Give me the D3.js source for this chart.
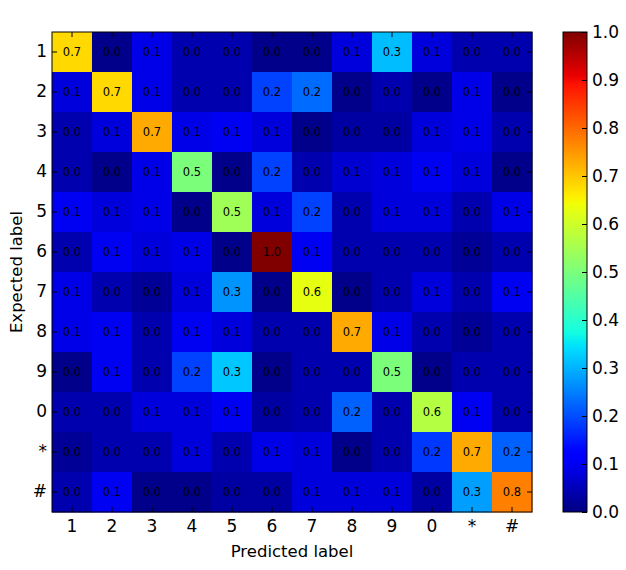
<!DOCTYPE html>
<html>
<head>
<meta charset="utf-8">
<script src="https://cdn.jsdelivr.net/npm/d3@7"></script>
<style>
  body { margin: 0; background: #fff; }
  svg { display: block; }
</style>
</head>
<body>
<div id="wrapper"></div>
<script>
// class labels, same order on both axes
const labels = ["1", "2", "3", "4", "5", "6", "7", "8", "9", "0", "*", "#"]

// one row per expected label
const row1    = [0.68, 0.01, 0.09, 0.04, 0.04, 0.01, 0.01, 0.08, 0.31, 0.08, 0.04, 0.04]
const row2    = [0.08, 0.68, 0.09, 0.04, 0.04, 0.19, 0.23, 0.01, 0.04, 0.01, 0.09, 0.01]
const row3    = [0.04, 0.08, 0.73, 0.09, 0.10, 0.08, 0.01, 0.03, 0.03, 0.08, 0.09, 0.04]
const row4    = [0.04, 0.01, 0.09, 0.50, 0.01, 0.19, 0.04, 0.07, 0.08, 0.10, 0.08, 0.01]
const row5    = [0.10, 0.08, 0.09, 0.01, 0.545, 0.08, 0.19, 0.04, 0.08, 0.08, 0.04, 0.09]
const row6    = [0.04, 0.10, 0.08, 0.09, 0.01, 1.00, 0.10, 0.04, 0.04, 0.04, 0.02, 0.04]
const row7    = [0.09, 0.04, 0.02, 0.08, 0.27, 0.01, 0.63, 0.01, 0.04, 0.08, 0.04, 0.10]
const row8    = [0.09, 0.10, 0.04, 0.10, 0.08, 0.04, 0.04, 0.73, 0.09, 0.04, 0.02, 0.04]
const row9    = [0.01, 0.10, 0.04, 0.19, 0.32, 0.01, 0.04, 0.04, 0.50, 0.01, 0.04, 0.04]
const row0    = [0.04, 0.04, 0.08, 0.08, 0.10, 0.03, 0.04, 0.22, 0.04, 0.57, 0.10, 0.04]
const rowStar = [0.02, 0.04, 0.04, 0.08, 0.04, 0.09, 0.08, 0.01, 0.04, 0.18, 0.73, 0.22]
const rowHash = [0.04, 0.10, 0.01, 0.01, 0.03, 0.03, 0.08, 0.08, 0.08, 0.03, 0.28, 0.775]

const matrix = [row1, row2, row3, row4, row5, row6, row7, row8, row9, row0, rowStar, rowHash]

const colorbarTicks = [0, 0.1, 0.2, 0.3, 0.4, 0.5, 0.6, 0.7, 0.8, 0.9, 1.0]

// matplotlib "jet" colormap, piecewise linear per channel
const jetR = d3.scaleLinear().domain([0, 0.35, 0.66, 0.89, 1]).range([0, 0, 1, 1, 0.5]).clamp(true)
const jetG = d3.scaleLinear().domain([0, 0.125, 0.375, 0.64, 0.91, 1]).range([0, 0, 1, 1, 0, 0]).clamp(true)
const jetB = d3.scaleLinear().domain([0, 0.11, 0.34, 0.65, 1]).range([0.5, 1, 1, 0, 0]).clamp(true)
const jet = v => d3.rgb(jetR(v) * 255, jetG(v) * 255, jetB(v) * 255).formatHex()

const dimensions = {
  width: 626,
  height: 570,
  margin: { top: 32, left: 52 },
  size: 480,
  bar: { x: 563, width: 24 },
}

const font = "DejaVu Sans, sans-serif"

const svg = d3.select("#wrapper")
  .append("svg")
    .attr("width", dimensions.width)
    .attr("height", dimensions.height)
    .style("font-family", font)

const bounds = svg.append("g")
    .attr("transform", `translate(${dimensions.margin.left},${dimensions.margin.top})`)

const xScale = d3.scaleBand().domain(labels).range([0, dimensions.size])
const yScale = d3.scaleBand().domain(labels).range([0, dimensions.size])

// flatten to cells
const cells = matrix.flatMap((row, i) =>
  row.map((v, j) => ({ expected: labels[i], predicted: labels[j], value: v })))

bounds.selectAll("rect.cell")
  .data(cells)
  .enter()
  .append("rect")
    .attr("class", "cell")
    .attr("x", d => xScale(d.predicted))
    .attr("y", d => yScale(d.expected))
    .attr("width", xScale.bandwidth() + 0.5)
    .attr("height", yScale.bandwidth() + 0.5)
    .attr("fill", d => jet(d.value))

bounds.selectAll("text.val")
  .data(cells)
  .enter()
  .append("text")
    .attr("class", "val")
    .attr("x", d => xScale(d.predicted) + xScale.bandwidth() / 2)
    .attr("y", d => yScale(d.expected) + yScale.bandwidth() / 2)
    .attr("dy", "0.36em")
    .attr("text-anchor", "middle")
    .style("font-size", "11.5px")
    .attr("fill", "black")
    .text(d => d3.format(".1f")(d.value))

// axes, ticks pointing inward like matplotlib classic
const styleAxis = g => {
  g.select(".domain").remove()
  g.selectAll("line").attr("stroke", "black")
  g.selectAll("text").style("font-size", "17px").style("font-family", font).attr("fill", "black")
}

bounds.append("g")
    .attr("transform", `translate(0,${dimensions.size})`)
    .call(d3.axisBottom(xScale).tickSizeInner(-5).tickSizeOuter(0).tickPadding(8))
    .call(styleAxis)

bounds.append("g")
    .call(d3.axisTop(xScale).tickSizeInner(-5).tickSizeOuter(0).tickFormat(""))
    .call(styleAxis)

bounds.append("g")
    .call(d3.axisLeft(yScale).tickSizeInner(-5).tickSizeOuter(0).tickPadding(5))
    .call(styleAxis)

bounds.append("g")
    .attr("transform", `translate(${dimensions.size},0)`)
    .call(d3.axisRight(yScale).tickSizeInner(-5).tickSizeOuter(0).tickFormat(""))
    .call(styleAxis)

bounds.append("rect")
    .attr("width", dimensions.size)
    .attr("height", dimensions.size)
    .attr("fill", "none")
    .attr("stroke", "black")
    .attr("stroke-width", 1)

// axis labels
bounds.append("text")
    .attr("x", dimensions.size / 2)
    .attr("y", 525)
    .attr("text-anchor", "middle")
    .style("font-size", "16.5px")
    .attr("fill", "black")
    .text("Predicted label")

svg.append("text")
    .attr("transform", `translate(22,${dimensions.margin.top + dimensions.size / 2}) rotate(-90)`)
    .attr("text-anchor", "middle")
    .style("font-size", "16.5px")
    .attr("fill", "black")
    .text("Expected label")

// colorbar
const grad = svg.append("defs").append("linearGradient")
    .attr("id", "jetGrad")
    .attr("x1", 0).attr("y1", 1).attr("x2", 0).attr("y2", 0)
grad.selectAll("stop")
  .data(d3.range(0, 1.0001, 0.01))
  .enter()
  .append("stop")
    .attr("offset", d => d)
    .attr("stop-color", d => jet(d))

const barScale = d3.scaleLinear().domain([0, 1]).range([dimensions.size, 0])

const bar = svg.append("g")
    .attr("transform", `translate(${dimensions.bar.x},${dimensions.margin.top})`)

bar.append("rect")
    .attr("width", dimensions.bar.width)
    .attr("height", dimensions.size)
    .attr("fill", "url(#jetGrad)")

bar.append("g")
    .attr("transform", `translate(${dimensions.bar.width},0)`)
    .call(d3.axisRight(barScale).tickValues(colorbarTicks).tickFormat(d3.format(".1f"))
      .tickSizeInner(-5).tickSizeOuter(0).tickPadding(5))
    .call(styleAxis)

bar.append("rect")
    .attr("width", dimensions.bar.width)
    .attr("height", dimensions.size)
    .attr("fill", "none")
    .attr("stroke", "black")
    .attr("stroke-width", 1)
</script>
</body>
</html>
